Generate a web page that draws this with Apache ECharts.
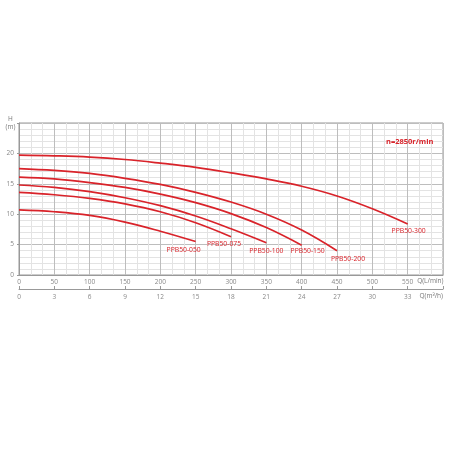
<!DOCTYPE html>
<html>
<head>
<meta charset="utf-8">
<script src="https://cdn.jsdelivr.net/npm/echarts@6/dist/echarts.min.js"></script>
<style>
  html, body { margin: 0; padding: 0; background: #fff; }
  #chart { width: 450px; height: 450px; }
</style>
</head>
<body>
<div id="chart"></div>
<script>
// flow in L/min, head in m
const flowSteps = [0, 50, 100, 150, 200, 250, 300, 350, 400, 450, 500, 550]
const pumpNames = ['PPB50-050', 'PPB50-075', 'PPB50-100', 'PPB50-150', 'PPB50-200', 'PPB50-300']
const head050 = [10.7, 10.4, 9.8, 8.7, 7.2, 5.5]
const head075 = [13.6, 13.2, 12.6, 11.7, 10.4, 8.6, 6.3]
const head100 = [14.8, 14.4, 13.7, 12.7, 11.4, 9.7, 7.6, 5.3]
const head150 = [16.1, 15.8, 15.2, 14.4, 13.3, 11.9, 10.1, 7.8, 4.9]
const head200 = [17.5, 17.2, 16.7, 15.9, 14.9, 13.6, 12.0, 10.0, 7.4, 4.0]
const head300 = [19.7, 19.6, 19.4, 19.0, 18.4, 17.7, 16.8, 15.8, 14.6, 13.0, 10.9, 8.4]
const heads = [head050, head075, head100, head150, head200, head300]
// label offsets from the curve end (px)
const labelOffsets = [[-12, 8], [-7, 7], [0, 8], [6, 6], [11, 8], [1, 7]]

const red = '#d9232a'
const labelFont = 'Open Sans'

const chart = echarts.init(document.getElementById('chart'))

const series = pumpNames.map((name, i) => ({
  name: name,
  type: 'line',
  smooth: 0.4,
  showSymbol: false,
  data: heads[i].map((h, k) => [flowSteps[k], h]),
  lineStyle: { color: red, width: 1.7 },
  itemStyle: { color: red },
  endLabel: {
    show: true,
    formatter: '{a}',
    color: red,
    fontSize: 6.8,
    fontFamily: labelFont,
    align: 'center',
    verticalAlign: 'middle',
    distance: 0,
    offset: labelOffsets[i]
  }
}))

const option = {
  animation: false,
  title: {
    text: 'n=2850r/min',
    left: 381,
    top: 133,
    textStyle: { color: red, fontSize: 7.5, fontWeight: 'bold', fontFamily: labelFont }
  },
  grid: {
    left: 19, right: 7, top: 123, bottom: 175,
    show: true, borderColor: '#999', borderWidth: 1
  },
  xAxis: [
    {
      type: 'value',
      min: 0, max: 600, interval: 50,
      name: 'Q(L/min)',
      nameLocation: 'end',
      nameGap: 0,
      nameTextStyle: { color: '#777', fontSize: 6.5, fontFamily: labelFont, align: 'right', verticalAlign: 'top', padding: [3, 0, 0, 0] },
      axisLine: { lineStyle: { color: '#999' } },
      axisTick: { show: false },
      axisLabel: {
        color: '#888', fontSize: 6.5, fontFamily: labelFont, margin: 4,
        formatter: v => (v === 600 ? '' : v)
      },
      splitLine: { lineStyle: { color: '#bdbdbd', width: 1 } },
      minorTick: { show: false, splitNumber: 3 },
      minorSplitLine: { show: true, lineStyle: { color: '#e3e3e3', width: 1 } }
    },
    {
      type: 'value',
      position: 'bottom',
      offset: 14,
      min: 0, max: 36, interval: 3,
      name: 'Q(m³/h)',
      nameLocation: 'end',
      nameGap: 0,
      nameTextStyle: { color: '#777', fontSize: 6.5, fontFamily: labelFont, align: 'right', verticalAlign: 'top', padding: [4, 0, 0, 0] },
      axisLine: { show: true, lineStyle: { color: '#999' } },
      axisTick: { show: true, inside: true, length: 3, lineStyle: { color: '#999' } },
      axisLabel: {
        color: '#888', fontSize: 6.5, fontFamily: labelFont, margin: 5,
        formatter: v => (v === 36 ? '' : v)
      },
      splitLine: { show: false }
    }
  ],
  yAxis: {
    type: 'value',
    min: 0, max: 25, interval: 5,
    name: 'H\n(m)',
    nameLocation: 'end',
    nameGap: 0,
    nameTextStyle: { color: '#777', fontSize: 6.5, fontFamily: labelFont, align: 'center', verticalAlign: 'middle', lineHeight: 8, padding: [0, 17, 0, 0] },
    axisLine: { show: true, lineStyle: { color: '#999' } },
    axisTick: { show: true, length: 2, lineStyle: { color: '#999' } },
    axisLabel: {
      color: '#888', fontSize: 6.5, fontFamily: labelFont, margin: 5,
      formatter: v => (v === 25 ? '' : v)
    },
    splitLine: { lineStyle: { color: '#bdbdbd', width: 1 } },
    minorTick: { show: false, splitNumber: 5 },
    minorSplitLine: { show: true, lineStyle: { color: '#e3e3e3', width: 1 } }
  },
  series: series
}

chart.setOption(option)
</script>
</body>
</html>
